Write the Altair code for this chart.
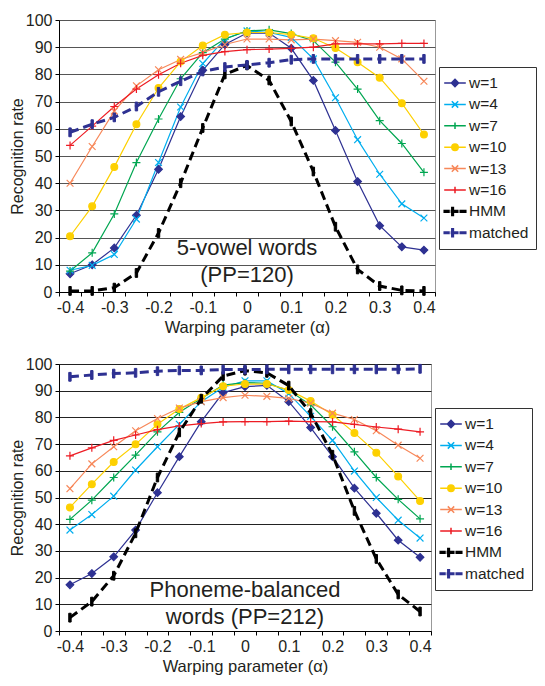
import altair as alt
import pandas as pd

FONT = "Liberation Sans"
TXT = "#231f20"

alphas = [-0.4, -0.35, -0.3, -0.25, -0.2, -0.15, -0.1, -0.05, 0.0,
          0.05, 0.1, 0.15, 0.2, 0.25, 0.3, 0.35, 0.4]
series_names = ["w=1", "w=4", "w=7", "w=10", "w=13", "w=16", "HMM", "matched"]

# ---- top panel: 5-vowel words (PP=120)
top_w1 = [6.7, 10, 16.2, 28.2, 45.1, 64.5, 81.5, 91, 95.2, 95.2, 89.6, 77.8, 59.4, 40.6, 24.4, 16.6, 15.4]
top_w4 = [8, 9.8, 13.8, 26.8, 47.6, 68, 84, 93, 96, 95.4, 93.6, 85.7, 71.4, 56, 43.3, 32.4, 27.2]
top_w7 = [7.7, 14.4, 28.7, 47.6, 63.6, 78.4, 88, 93, 96, 96.4, 95, 92.4, 84.5, 74.6, 63, 54.6, 44]
top_w10 = [20.5, 31.5, 46, 61.7, 75, 84.7, 90.6, 94.6, 95.4, 95.4, 94.6, 93.3, 89.7, 84.5, 78.8, 69.4, 57.9]
top_w13 = [40, 53.5, 66.5, 75.8, 81.7, 85.5, 88, 91, 93, 93, 92.7, 93, 92.4, 91.8, 90, 85.7, 77.5]
top_w16 = [53.9, 61, 68.2, 74.6, 79.9, 84.1, 87, 88.4, 89.1, 89.3, 89.6, 90, 91.2, 91.2, 91.2, 91.4, 91.4]
top_hmm = [0.4, 0.4, 1.6, 7, 21.7, 40, 60.3, 80, 83.3, 77.8, 62.7, 44.3, 24, 8.3, 2.2, 0.6, 0.4]
top_matched = [58.7, 61.7, 64.2, 68.2, 73.6, 77.5, 81.1, 82.7, 83.5, 84.3, 85.4, 85.7, 85.7, 85.7, 85.7, 85.7, 85.7]

# ---- bottom panel: phoneme-balanced words (PP=212)
bot_w1 = [17.3, 21.5, 27.8, 37.8, 51.8, 65.3, 78.4, 89.3, 91.5, 92, 85.9, 76.2, 65.3, 53.5, 44.1, 34, 27.6]
bot_w4 = [37.8, 43.6, 50.5, 60.3, 69, 77.4, 85.9, 91.3, 93.7, 93.7, 88.9, 80.4, 71.4, 59.9, 50, 41.5, 34.8]
bot_w7 = [41.8, 49, 57.5, 65.9, 74.6, 81.9, 87.1, 92.1, 93, 92.8, 90.1, 84.7, 76.5, 67.1, 57.5, 49.3, 42]
bot_w10 = [46.3, 55, 63.3, 69.9, 77.4, 83.1, 87.4, 91.7, 92.5, 92.5, 90.3, 86.1, 81, 74.2, 66.8, 57.9, 48.7]
bot_w13 = [53.3, 62.6, 69, 75, 79.6, 83.5, 85.9, 87.4, 88.3, 87.9, 87.1, 85.3, 81.6, 79.2, 75, 69.6, 64.7]
bot_w16 = [65.6, 68.6, 71.4, 73.4, 75.4, 76.8, 77.7, 78.3, 78.4, 78.4, 78.6, 78.4, 78.3, 77.4, 76.4, 75.6, 74.6]
bot_hmm = [5, 11, 20.7, 36.6, 57.5, 74.4, 87, 95.5, 97.5, 96.7, 91.9, 81.6, 66, 45, 27, 13.7, 7.3]
bot_matched = [95.2, 95.9, 96.4, 96.7, 97.3, 97.6, 97.6, 97.9, 97.9, 98, 98, 98, 98, 98, 98, 98, 98.2]

top_text = ["5-vowel words", "(PP=120)"]
top_text_y = [16.1, 6.2]
bot_text = ["Phoneme-balanced", "words (PP=212)"]
bot_text_y = [15.3, 5.1]

# ---- styles
series_colors = ["#2e3192", "#00aeef", "#00a651", "#fdd000", "#f7885a", "#ed1c24", "#000000", "#2e3192"]
series_fills = ["#2e3192", "transparent", "transparent", "#fdd000", "transparent", "transparent", "#000000", "#2e3192"]

DIAMOND = "M0,-0.95L0.95,0L0,0.95L-0.95,0Z"
XMARK = "M-0.85,-0.85L0.85,0.85M-0.85,0.85L0.85,-0.85"
PLUS = "M-1,0H1M0,-1V1"
CIRCLE = "M0.85,0A0.85,0.85,0,1,1,-0.85,0A0.85,0.85,0,1,1,0.85,0Z"
BAR = "M-0.3,-1.1H0.3V1.1H-0.3Z"
marker_shapes = [DIAMOND, XMARK, PLUS, CIRCLE, XMARK, PLUS, BAR, BAR]

LINE = "M-1.35,0H1.35"
def rect(x1, x2, h=0.1):
    return f"M{x1},-{h}H{x2}V{h}H{x1}Z"
DASHED = rect(-1.35, -0.75) + rect(-0.45, 0.35) + rect(0.65, 1.35) + "M-0.4,-0.5H-0.2V0.5H-0.4Z"
legend_shapes = [
    LINE + "M0,-0.45L0.45,0L0,0.45L-0.45,0Z",
    LINE + "M-0.4,-0.4L0.4,0.4M-0.4,0.4L0.4,-0.4",
    LINE + "M0,-0.4V0.4",
    LINE + "M0.4,0A0.4,0.4,0,1,1,-0.4,0A0.4,0.4,0,1,1,0.4,0Z",
    LINE + "M-0.4,-0.4L0.4,0.4M-0.4,0.4L0.4,-0.4",
    LINE + "M0,-0.4V0.4",
    DASHED,
    DASHED,
]

TICK_VALUES = [round(-0.425 + 0.05 * i, 3) for i in range(18)]
K = "round((datum.value-0.025)*10)"
LABEL_EXPR = (f"abs((datum.value-0.025)*10-{K})<0.01 ? ({K}==0 ? '0' : ({K}<0 ? '-0.'+abs({K}) : '0.'+{K})) : ''")


def panel(values, texts, texts_y, width, height, grid_color, legend_y):
    rows = []
    for name, vals in zip(series_names, values):
        for a, v in zip(alphas, vals):
            rows.append({"alpha": a, "rate": v, "series": name})
    df = pd.DataFrame(rows)

    x = alt.X("alpha:Q",
              scale=alt.Scale(domain=[-0.425, 0.425], nice=False, zero=False),
              axis=alt.Axis(values=TICK_VALUES, labelExpr=LABEL_EXPR,
                            labelOffset=-(0.025 / 0.85) * width,
                            labelOverlap=False, labelFlush=False,
                            grid=False, tickSize=4, tickColor="black",
                            domainColor="black", labelFontSize=16, labelPadding=3,
                            title="Warping parameter (α)", titleFontSize=16.5,
                            titlePadding=4))
    y = alt.Y("rate:Q",
              scale=alt.Scale(domain=[0, 100], nice=False, zero=True),
              axis=alt.Axis(values=list(range(0, 101, 10)), grid=True,
                            gridColor=grid_color, gridOpacity=1, gridWidth=1,
                            tickSize=4, tickColor="black", domainColor="black",
                            labelFontSize=16, labelPadding=3,
                            title="Recognition rate", titleFontSize=16,
                            titlePadding=0))

    base = alt.Chart(df).encode(x=x, y=y)
    solid = base.transform_filter(alt.FieldOneOfPredicate(field="series", oneOf=series_names[:6]))
    dashed = base.transform_filter(alt.FieldOneOfPredicate(field="series", oneOf=series_names[6:]))

    def col(legend=None):
        return alt.Color("series:N", scale=alt.Scale(domain=series_names, range=series_colors), legend=legend)

    def fil(legend=None):
        return alt.Fill("series:N", scale=alt.Scale(domain=series_names, range=series_fills), legend=legend)

    def shp(rng, legend=None):
        return alt.Shape("series:N", scale=alt.Scale(domain=series_names, range=rng), legend=legend)

    leg = alt.Legend(title=None, orient="none", legendX=width + 4, legendY=legend_y,
                     direction="vertical", columns=1, labelFontSize=15.5, labelFont=FONT,
                     labelColor=TXT, symbolSize=256, symbolStrokeWidth=1.5,
                     symbolFillColor="transparent", strokeColor="#333333", fillColor="white",
                     padding=7, rowPadding=3.4, labelOffset=5)

    l1 = solid.mark_line(strokeWidth=1.2).encode(color=col())
    p1 = solid.mark_point(filled=False, size=64, strokeWidth=1.2, opacity=1).encode(
        color=col(), fill=fil(), shape=shp(marker_shapes))
    l2 = dashed.mark_line(strokeWidth=3, strokeDash=[9, 5]).encode(color=col())
    p2 = dashed.mark_point(filled=False, size=64, strokeWidth=1, opacity=1).encode(
        color=col(), fill=fil(), shape=shp(marker_shapes))
    proxy = base.transform_filter(alt.datum.alpha == -0.4).mark_point(
        filled=False, size=0, strokeWidth=1.5, opacity=1).encode(
        color=col(leg), fill=fil(leg), shape=shp(legend_shapes, leg))

    tdf = pd.DataFrame({"alpha": [0.0] * len(texts), "rate": texts_y, "label": texts})
    txt = alt.Chart(tdf).mark_text(font=FONT, fontSize=22, color=TXT, baseline="middle",
                                   align="center").encode(x=x, y=y, text="label:N")

    return alt.layer(l1, p1, l2, p2, proxy, txt).resolve_scale(
        color="independent", fill="independent", shape="independent"
    ).properties(width=width, height=height)


top = panel([top_w1, top_w4, top_w7, top_w10, top_w13, top_w16, top_hmm, top_matched],
            top_text, top_text_y, 376, 272, "#555555", 47)
bottom = panel([bot_w1, bot_w4, bot_w7, bot_w10, bot_w13, bot_w16, bot_hmm, bot_matched],
               bot_text, bot_text_y, 372, 267, "#222222", 44)

chart = alt.vconcat(top, bottom, spacing=19).properties(
    padding={"left": 0, "top": 3, "right": 0, "bottom": 0}
).configure(font=FONT).configure_axis(
    labelColor=TXT, titleColor=TXT, labelFont=FONT, titleFont=FONT, titleFontWeight="normal"
).configure_view(stroke="#999999", strokeWidth=1)

chart.save("out.html", embed_options={"renderer": "svg", "actions": False})
